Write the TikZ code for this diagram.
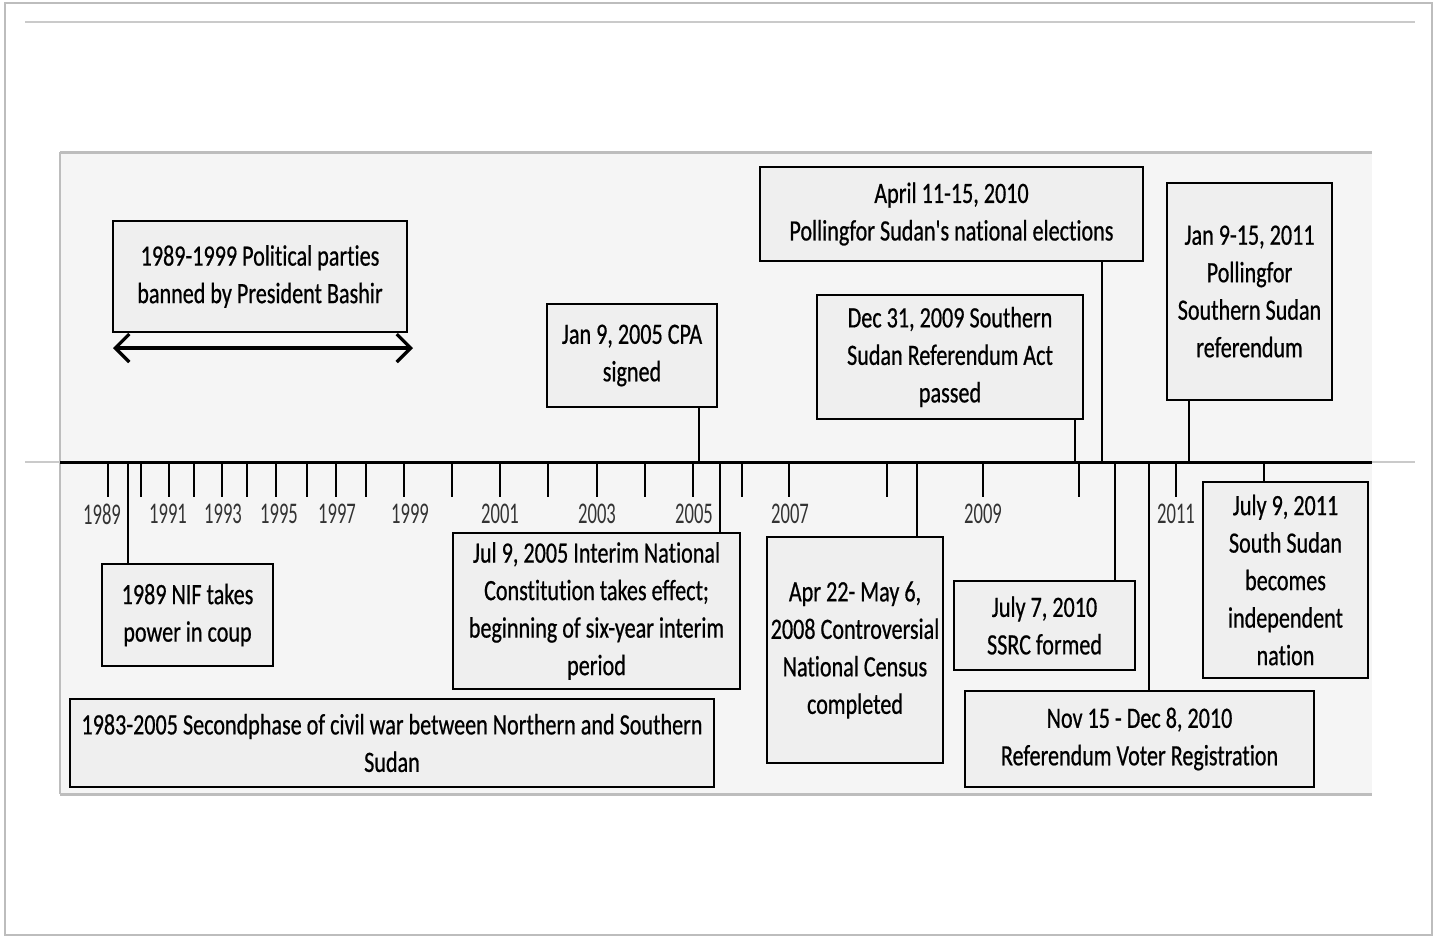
\documentclass[tikz,border=0pt]{standalone}
\usepackage{fontspec}
\setmainfont{Carlito}
\newfontfamily\boxfont[FakeStretch=0.75, FakeBold=0.6, Ligatures=NoCommon]{Carlito}
\newfontfamily\yearfont[FakeStretch=0.62, Ligatures=NoCommon]{Carlito}
\usetikzlibrary{arrows.meta}
\definecolor{panelgray}{HTML}{F5F5F5}
\definecolor{boxgray}{HTML}{EFEFEF}
\definecolor{framegray}{HTML}{BDBDBD}
\begin{document}
\begin{tikzpicture}[x=1pt, y=-1pt,
    evbox/.style={draw=black, line width=2.2pt, fill=boxgray, align=center, inner sep=0pt,
      font=\boxfont\fontsize{29.5}{37.5}\selectfont},
    yr/.style={font=\yearfont\fontsize{30}{32}\selectfont, text=black!80, inner sep=0pt},
    link/.style={line width=2.6pt, black}]
    % page, card and panel
    \useasboundingbox (0,0) rectangle (1437,938);
    \fill[white] (0,0) rectangle (1437,938);
    \draw[framegray, line width=2pt] (5,3) rectangle (1432,935);
    \draw[framegray!80, line width=2.5pt] (25,22) -- (1415,22);
    \fill[panelgray] (60,152) rectangle (1372,794);
    \draw[framegray, line width=3pt] (60,152) -- (1372,152);
    \draw[framegray, line width=3pt] (60,794) -- (1372,794);
    \draw[framegray, line width=1.2pt] (60,152) -- (60,794);

    % timeline
    \draw[framegray!80, line width=2pt] (25,462) -- (1415,462);
    \draw[line width=3pt] (60,462) -- (1372,462);
    \foreach \x in {108,141,169,194,222,247,276,307,336,366,404,452,500,548,597,645,693,742,789,887,983,1079,1176}
        \draw[link] (\x,462) -- (\x,497);
    \foreach \x/\yy in {102/1989,168/1991,223/1993,279/1995,337/1997,410/1999,500/2001,597/2003,694/2005,790/2007,983/2009,1176/2011}
        \node[yr] (y\yy) at (\x,514) {\yy};

    % points on the line
    \coordinate (tnif) at (128,462);
    \coordinate (tcpa) at (699,462);
    \coordinate (tjul05) at (720,462);
    \coordinate (tcensus) at (917,462);
    \coordinate (tdec) at (1075,462);
    \coordinate (tapril) at (1102,462);
    \coordinate (tssrc) at (1115,462);
    \coordinate (tnov) at (1149,462);
    \coordinate (tjan) at (1189,462);
    \coordinate (tjul11) at (1264,462);

    % events above
    \node[evbox, minimum width=294, minimum height=111] (ban) at (260,276.5) {1989-1999 Political parties\\banned by President Bashir};
    \node[evbox, minimum width=170, minimum height=103] (cpa) at (632,355.5) {Jan 9, 2005 CPA\\signed};
    \node[evbox, minimum width=383, minimum height=94] (april) at (951.5,214) {April 11-15, 2010\\Pollingfor Sudan's national elections};
    \node[evbox, minimum width=266, minimum height=124] (dec) at (950,357) {Dec 31, 2009 Southern\\Sudan Referendum Act\\passed};
    \node[evbox, minimum width=165, minimum height=217] (jan) at (1249.5,291.5) {Jan 9-15, 2011\\Pollingfor\\Southern Sudan\\referendum};

    % events below
    \node[evbox, minimum width=171, minimum height=102] (nif) at (187.5,615) {1989 NIF takes\\power in coup};
    \node[evbox, minimum width=287, minimum height=156] (jul05) at (596.5,611) {Jul 9, 2005 Interim National\\Constitution takes effect;\\beginning of six-year interim\\period};
    \node[evbox, minimum width=644, minimum height=88] (war) at (392,743) {1983-2005 Secondphase of civil war between Northern and Southern\\Sudan};
    \node[evbox, minimum width=176, minimum height=226] (census) at (855,650) {Apr 22- May 6,\\2008 Controversial\\National Census\\completed};
    \node[evbox, minimum width=181, minimum height=89] (ssrc) at (1044.5,625.5) {July 7, 2010\\SSRC formed};
    \node[evbox, minimum width=349, minimum height=96] (nov) at (1139.5,739) {Nov 15 - Dec 8, 2010\\Referendum Voter Registration};
    \node[evbox, minimum width=165, minimum height=196] (jul11) at (1285.5,580) {July 9, 2011\\South Sudan\\becomes\\independent\\nation};

    % double arrow under the ban box
    \coordinate (banL) at (113,348);
    \coordinate (banR) at (413,348);
    \draw[line width=3.2pt, {Straight Barb[length=14pt,width=28pt]}-{Straight Barb[length=14pt,width=28pt]}] (banL) -- (banR);

    % connectors
    \draw[link] (cpa.south -| tcpa) -- (tcpa);
    \draw[link] (april.south -| tapril) -- (tapril);
    \draw[link] (dec.south -| tdec) -- (tdec);
    \draw[link] (jan.south -| tjan) -- (tjan);
    \draw[link] (tnif) -- (nif.north -| tnif);
    \draw[link] (tjul05) -- (jul05.north -| tjul05);
    \draw[link] (tcensus) -- (census.north -| tcensus);
    \draw[link] (tssrc) -- (ssrc.north -| tssrc);
    \draw[link] (tnov) -- (nov.north -| tnov);
    \draw[link] (tjul11) -- (jul11.north -| tjul11);
\end{tikzpicture}
\end{document}
